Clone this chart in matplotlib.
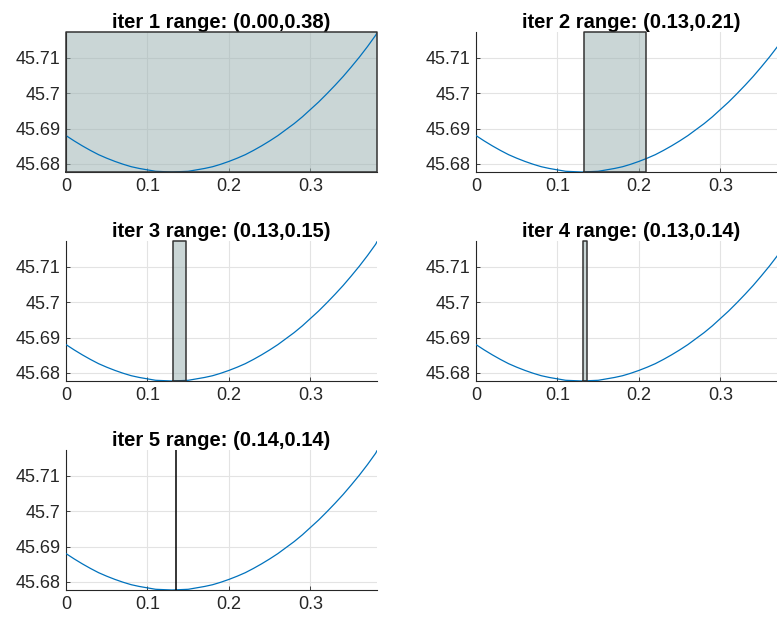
import numpy as np
import matplotlib.pyplot as plt

# curve values
x_vals = [0.00, 0.01, 0.02, 0.03, 0.04, 0.05, 0.06, 0.07, 0.08, 0.09,
          0.10, 0.11, 0.12, 0.13, 0.14, 0.15, 0.16, 0.17, 0.18, 0.19,
          0.20, 0.21, 0.22, 0.23, 0.24, 0.25, 0.26, 0.27, 0.28, 0.29,
          0.30, 0.31, 0.32, 0.33, 0.34, 0.35, 0.36, 0.37, 0.38, 0.3816]
y_vals = [45.6880, 45.6865, 45.6851, 45.6838, 45.6826, 45.6816, 45.6807,
          45.6799, 45.6792, 45.6787, 45.6783, 45.6779, 45.6778, 45.6777,
          45.6778, 45.6779, 45.6783, 45.6787, 45.6792, 45.6799, 45.6807,
          45.6816, 45.6826, 45.6838, 45.6851, 45.6865, 45.6880, 45.6897,
          45.6914, 45.6933, 45.6954, 45.6975, 45.6998, 45.7022, 45.7047,
          45.7074, 45.7102, 45.7132, 45.7164, 45.7171]

# search interval per iteration
iters = [1, 2, 3, 4, 5]
lo = [0.0, 0.1325, 0.1313, 0.1313, 0.1355]
hi = [0.3816, 0.2086, 0.1472, 0.1356, 0.1355]

x_max = 0.3816
y_min, y_max = 45.6777, 45.7173
yticks = [45.68, 45.69, 45.70, 45.71]
ytick_labels = ["45.68", "45.69", "45.7", "45.71"]
xticks = [0, 0.1, 0.2, 0.3]
xtick_labels = ["0", "0.1", "0.2", "0.3"]

plt.rcParams["font.family"] = ["Liberation Sans", "DejaVu Sans"]

fig = plt.figure(figsize=(7.77, 6.19), dpi=100)
W, H = 777, 619

# axes boxes in pixels (left, top)
boxes = [(66, 32), (476, 32), (66, 241), (476, 241), (66, 450)]
aw, ah = 311, 140

for i, (px, py) in enumerate(boxes):
    ax = fig.add_axes([px / W, 1 - (py + ah) / H, aw / W, ah / H])
    ax.set_xlim(0, x_max)
    ax.set_ylim(y_min, y_max)
    ax.grid(True, color="#e3e3e3", linewidth=0.8)
    ax.set_axisbelow(True)

    a, b = lo[i], hi[i]
    if b - a > 1e-4:
        ax.fill_between([a, b], y_min, y_max, facecolor="#9fb5b5", alpha=0.55,
                        edgecolor="none", zorder=2)
        ax.plot([a, b, b, a, a], [y_min, y_min, y_max, y_max, y_min],
                color="#333333", linewidth=1.1, zorder=4, clip_on=False)
    else:
        ax.plot([a, a], [y_min, y_max], color="black", linewidth=1.1, zorder=4)

    ax.plot(x_vals, y_vals, color="#0072bd", linewidth=0.9, zorder=3)

    ax.set_xticks(xticks)
    ax.set_xticklabels(xtick_labels)
    ax.set_yticks(yticks)
    ax.set_yticklabels(ytick_labels)
    ax.tick_params(direction="in", length=3, width=0.6, colors="#262626",
                   labelsize=13, pad=4)
    for s in ["top", "right"]:
        ax.spines[s].set_visible(False)
    for s in ["left", "bottom"]:
        ax.spines[s].set_color("#262626")
        ax.spines[s].set_linewidth(0.8)

    ax.set_title("iter %d range: (%.2f,%.2f)" % (iters[i], a, b),
                 fontsize=14.5, fontweight="bold", pad=3)

fig.savefig("out.png", dpi=100)
